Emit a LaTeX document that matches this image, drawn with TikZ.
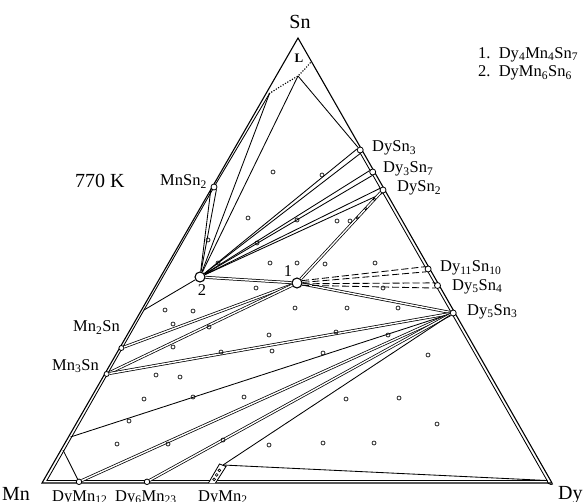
\documentclass[tikz,border=0pt]{standalone}
\usepackage{fontspec}
\setmainfont{Liberation Serif}
\usetikzlibrary{calc}
\newcommand{\sub}[1]{\textsubscript{#1}}
\begin{document}
\begin{tikzpicture}[x=1pt,y=-1pt,
  outline/.style={line width=1.1pt},
  tie/.style={line width=0.85pt},
  dtie/.style={double, line width=0.75pt, double distance=1.4pt},
  ddash/.style={line width=0.85pt, dash pattern=on 7pt off 3pt},
  liq/.style={line width=1.6pt, dash pattern=on 0pt off 2.7pt, line cap=round},
  sample/.style={circle, draw, line width=0.65pt, inner sep=0pt, minimum size=4pt},
  phase/.style={circle, draw, fill=white, line width=0.8pt, inner sep=0pt, minimum size=6pt},
  inv/.style={circle, draw, fill=white, line width=1.1pt, inner sep=0pt, minimum size=10pt},
  lbl/.style={font=\fontsize{16.5}{16.5}\selectfont, inner sep=0pt},
  vlbl/.style={font=\fontsize{20}{20}\selectfont, inner sep=0pt},
]
\useasboundingbox (0,0) rectangle (585,502);

% corners of the composition triangle
\coordinate (Mn) at (42,483);
\coordinate (Dy) at (552,483);
\coordinate (Sn) at (298,38);
% inner corners of the double border
\coordinate (MnIn) at (46.9,480.5);
\coordinate (DyIn) at (547.1,480.5);
% ends of the liquid boundary
\coordinate (Lleft) at (269.5,93.5);
\coordinate (Lcorner) at (298,76);
\coordinate (Lright) at (311,62);
% points on the Mn-Sn side
\coordinate (MnTwoTop) at (144,310);
\coordinate (EdgeA) at (70.5,437);
\coordinate (EdgeB) at (63,450);
% DyMn2 band
\coordinate (DyMnTwoTop) at (223,465);

% outer border
\draw[outline] (Mn) -- (Sn) -- (Dy) -- cycle;
% inner border lines
\draw[tie] (Lleft) -- (214,187) -- (MnIn) -- (DyIn) -- (359,151);

% liquid boundary
\draw[liq] (Lleft) .. controls (281,86) .. (Lcorner) .. controls (304,70) .. (Lright);

% binary and ternary phases
\node[phase] (MnSnTwo) at (214,187) {};
\node[phase, minimum size=5pt] (MnTwoSn) at (121.4,348) {};
\node[phase, minimum size=5pt] (MnThreeSn) at (106.6,374) {};
\node[phase] (DySnThree) at (360.2,150) {};
\node[phase] (DyThreeSnSeven) at (372.7,172) {};
\node[phase] (DySnTwo) at (383,190) {};
\node[phase] (DyElevenSnTen) at (428.1,269) {};
\node[phase] (DyFiveSnFour) at (437.5,285.5) {};
\node[phase] (DyFiveSnThree) at (453.2,313) {};
\node[phase, minimum size=5.5pt] (DyMnTwelve) at (79,481.8) {};
\node[phase, minimum size=5.5pt] (DySixMn) at (147,481.8) {};
\node[inv] (p2) at (200,277) {};
\node[inv] (p1) at (297,283) {};

% tie lines around DyMn6Sn6
\draw[tie] (p2) -- (MnSnTwo.206);
\draw[tie] (p2) -- (MnSnTwo.316);
\draw[tie] (p2) -- (Lleft);
\draw[tie] (p2) -- (Lcorner);
\draw[tie] (Lcorner) -- (DySnThree);
\draw[tie] (p2) -- (MnTwoTop);
\draw[tie] (p2) -- (DySnThree.163);
\draw[tie] (p2) -- (DySnThree.273);
\draw[tie] (p2) -- (DyThreeSnSeven.156);
\draw[tie] (p2) -- (DyThreeSnSeven.266);
\draw[tie] (p2) -- (DySnTwo.150);
\draw[tie] (p2) -- (DySnTwo.260);
\draw[dtie] (p2) -- (p1);

% tie lines around Dy4Mn4Sn7
\draw[dtie] (p1) -- (DySnTwo);
\draw[dtie] (p1) -- (DyFiveSnThree);
\draw[dtie] (p1) -- (MnTwoSn);
\draw[dtie] (p1) -- (MnThreeSn);
\draw[ddash] (p1.25) -- (DyElevenSnTen.136);
\draw[ddash] (p1.6) -- (DyElevenSnTen.236);
\draw[ddash] (p1.-8) -- (DyFiveSnFour.129);
\draw[ddash] (p1.-24) -- (DyFiveSnFour.229);

% tie lines around Dy5Sn3
\draw[dtie] (MnThreeSn) -- (DyFiveSnThree);
\draw[tie] (EdgeA) -- (DyFiveSnThree);
\draw[dtie] (DyMnTwelve) -- (DyFiveSnThree);
\draw[dtie] (DySixMn) -- (DyFiveSnThree);
\draw[tie] (DyMnTwoTop) -- (DyFiveSnThree);
\draw[tie] (DyMnTwoTop) -- (DyIn);
\draw[tie] (EdgeB) -- (DyMnTwelve);

% DyMn2 solubility band
\draw[tie, fill=white] (208.5,483) -- (219.5,464) -- (226,466.5) -- (215.5,483);
\foreach \t in {0.2,0.45,0.7}
  \node[sample, minimum size=2.8pt] at ($(212,483)!\t!(222.5,465)$) {};

% band next to DySn2
\foreach \t in {0.1,0.2,0.3}
  \node[sample, minimum size=2.6pt] at ($(DySnTwo)!\t!(p1)$) {};

% Dy corner
\draw[tie] (547,480.5) arc[start angle=180, end angle=60, radius=4];

% sample compositions
\foreach \x/\y in {273/172, 322/175, 248/218, 297/220, 337/221, 350/221, 208/240, 257/243,
  218/263, 270/263, 297/263, 325/264, 375/263, 256/288, 383/288, 295/308, 347/308, 398/308,
  165/310, 193/311, 173/324, 209/327, 269/335, 336/332, 388/335, 173/347, 221/352, 272/351,
  323/353, 428/355, 156/375, 180/377, 144/399, 193/397, 244/397, 346/399, 399/398, 129/421,
  437/424, 117/444, 168/444, 223/440, 269/445, 323/443, 374/443}
  \node[sample] at (\x,\y) {};

% labels
\node[vlbl] (tSn) at (300,22) {Sn};
\node[vlbl, anchor=base west] (tMn) at (2,500) {Mn};
\node[vlbl, anchor=base west] (tDy) at (558,499) {Dy};
\node[vlbl, anchor=base west] (tK) at (75,188) {770 K};
\node[font=\fontsize{13}{13}\selectfont\bfseries, inner sep=0pt] (tL) at (299,58) {L};
\node[lbl, anchor=base east] (tMnSnTwo) at (207,185.5) {MnSn\sub{2}};
\node[lbl, anchor=base west] (tMnTwoSn) at (73,331.5) {Mn\sub{2}Sn};
\node[lbl, anchor=base west] (tMnThreeSn) at (52,370) {Mn\sub{3}Sn};
\node[lbl, anchor=base west] (tDySnThree) at (372,151.5) {DySn\sub{3}};
\node[lbl, anchor=base west] (tDyThreeSnSeven) at (383,173) {Dy\sub{3}Sn\sub{7}};
\node[lbl, anchor=base west] (tDySnTwo) at (397,191.5) {DySn\sub{2}};
\node[lbl, anchor=base west] (tDyElevenSnTen) at (440,271.5) {Dy\sub{11}Sn\sub{10}};
\node[lbl, anchor=base west] (tDyFiveSnFour) at (452,290) {Dy\sub{5}Sn\sub{4}};
\node[lbl, anchor=base west] (tDyFiveSnThree) at (467,315) {Dy\sub{5}Sn\sub{3}};
\node[lbl, anchor=base west] (tDyMnTwelve) at (52,501) {DyMn\sub{12}};
\node[lbl, anchor=base west] (tDySixMn) at (115,501) {Dy\sub{6}Mn\sub{23}};
\node[lbl, anchor=base west] (tDyMnTwo) at (198,501) {DyMn\sub{2}};
\node[lbl] (tOne) at (288,271) {1};
\node[lbl] (tTwo) at (202,290) {2};
\node[lbl, anchor=base west] (tLegOne) at (478,58.3) {1.\ \ Dy\sub{4}Mn\sub{4}Sn\sub{7}};
\node[lbl, anchor=base west] (tLegTwo) at (478,76.7) {2.\ \ DyMn\sub{6}Sn\sub{6}};
\end{tikzpicture}
\end{document}
